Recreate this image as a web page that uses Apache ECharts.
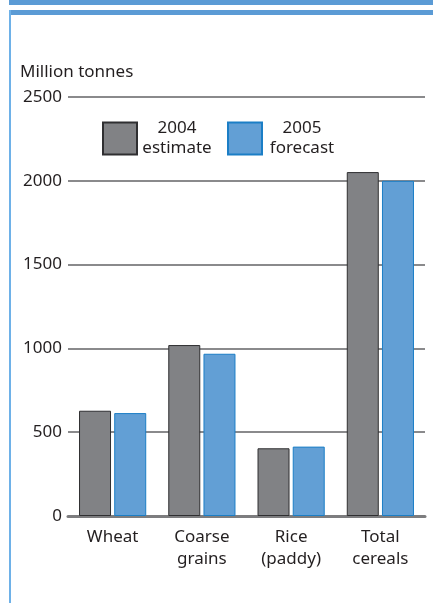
<!DOCTYPE html>
<html>
<head>
<meta charset="utf-8">
<script src="https://cdn.jsdelivr.net/npm/echarts@6/dist/echarts.min.js"></script>
<style>
  html, body { margin: 0; padding: 0; background: #fff; }
  #chart { width: 433px; height: 603px; }
</style>
</head>
<body>
<div id="chart"></div>
<script>
// World cereal production, million tonnes
const categories = ['Wheat', 'Coarse\ngrains', 'Rice\n(paddy)', 'Total\ncereals'];
const estimate2004 = [628, 1020, 404, 2052];
const forecast2005 = [614, 968, 414, 2000];
const seriesNames = ['2004\nestimate', '2005\nforecast'];
const yTicks = [0, 500, 1000, 1500, 2000, 2500];

const FONT = 'Noto Sans';
const TEXT = '#231f20';
const frameBlue = '#5b9bd5';

const chart = echarts.init(document.getElementById('chart'));
chart.setOption({
  animation: false,
  backgroundColor: '#fff',
  textStyle: { fontFamily: FONT, color: TEXT },
  title: {
    text: 'Million tonnes',
    left: 15,
    top: 59,
    textStyle: { fontFamily: FONT, fontWeight: 'normal', fontSize: 17, color: TEXT }
  },
  graphic: [
    // page frame: top band, rule and left edge
    { type: 'rect', shape: { x: 9, y: 0, width: 424, height: 5 }, style: { fill: frameBlue } },
    { type: 'rect', shape: { x: 9, y: 10, width: 424, height: 5 }, style: { fill: frameBlue } },
    { type: 'rect', shape: { x: 9, y: 10, width: 2, height: 593 }, style: { fill: '#6eb1e8' } }
  ],
  legend: {
    left: 97,
    top: 115,
    itemWidth: 34,
    itemHeight: 32,
    itemGap: 15,
    icon: 'rect',
    selectedMode: false,
    data: seriesNames,
    formatter: name => name.split('\n').map(s => '{t|' + s + '}').join('\n'),
    textStyle: {
      rich: {
        t: { width: 70, align: 'center', fontSize: 17, lineHeight: 20, fontFamily: FONT, color: TEXT }
      }
    }
  },
  grid: { left: 68, right: 8, top: 97, bottom: 87 },
  xAxis: {
    type: 'category',
    data: categories,
    axisTick: { show: false },
    axisLine: { lineStyle: { color: '#7d7d7f', width: 3 } },
    axisLabel: { fontSize: 17, lineHeight: 22, margin: 10, color: TEXT, fontFamily: FONT }
  },
  yAxis: {
    type: 'value',
    min: yTicks[0],
    max: yTicks[yTicks.length - 1],
    interval: 500,
    axisLine: { show: false },
    axisTick: { show: false },
    axisLabel: { fontSize: 17, margin: 6, color: TEXT, fontFamily: FONT, formatter: v => String(v) },
    splitLine: { lineStyle: { color: '#8a8a8c', width: 2 } }
  },
  series: [
    {
      name: seriesNames[0],
      type: 'bar',
      data: estimate2004,
      barWidth: 32,
      barGap: '10%',
      itemStyle: { color: '#818285', borderColor: '#2f2f31', borderWidth: 1 }
    },
    {
      name: seriesNames[1],
      type: 'bar',
      data: forecast2005,
      barWidth: 32,
      itemStyle: { color: '#629fd5', borderColor: '#1b7ec6', borderWidth: 1 }
    }
  ]
});
</script>
</body>
</html>
